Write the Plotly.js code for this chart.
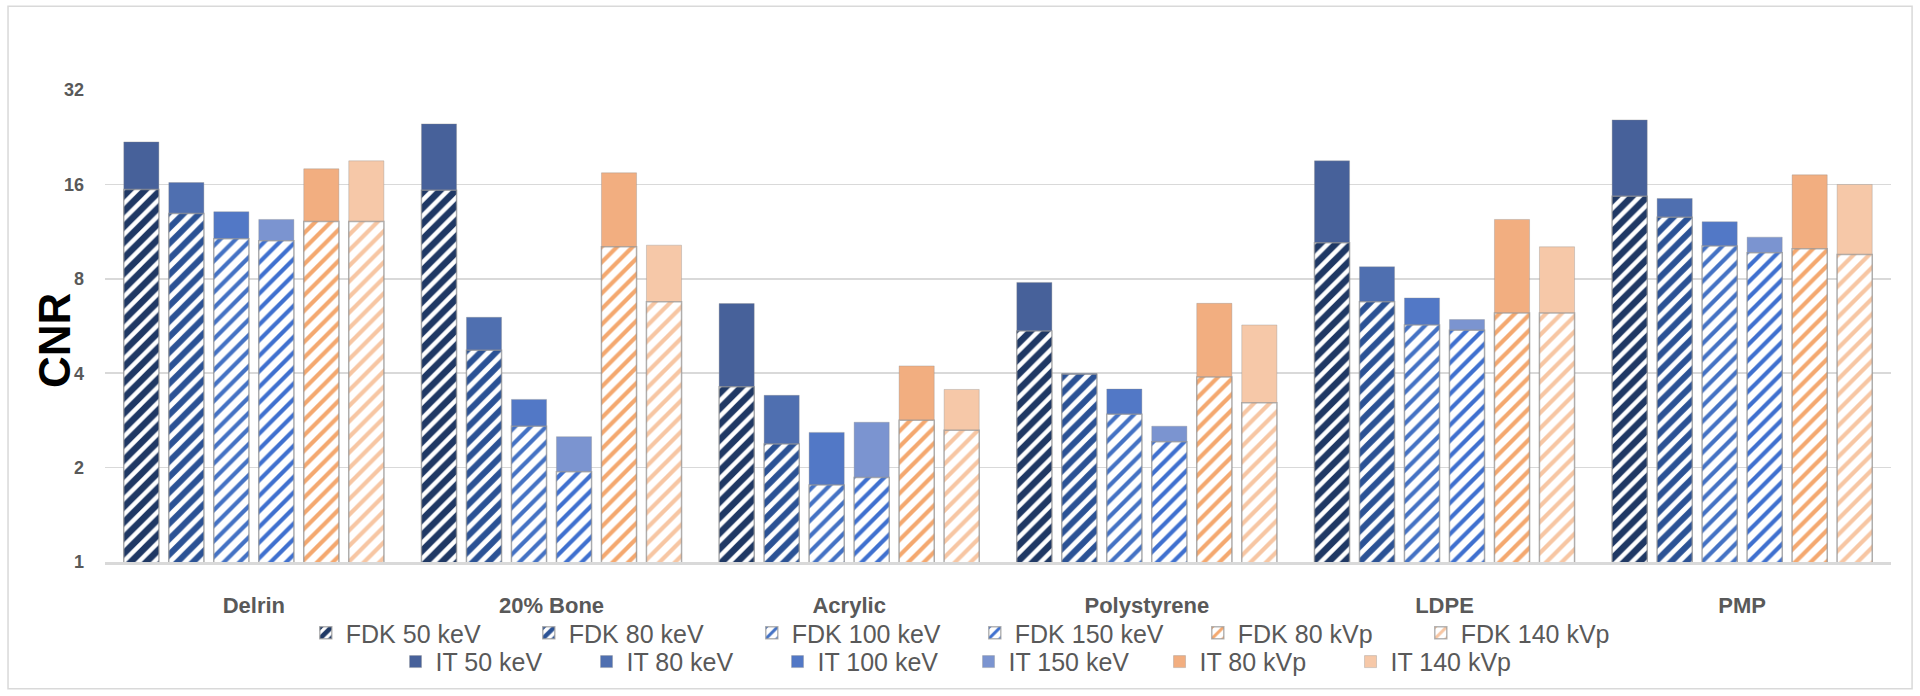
<!DOCTYPE html>
<html>
<head>
<meta charset="utf-8">
<script src="https://cdn.plot.ly/plotly-3.0.1.min.js"></script>
<style>html,body{margin:0;padding:0;background:#fff;}#chart{width:1920px;height:696px;}</style>
</head>
<body>
<div id="chart"></div>
<script>
const categories = ['Delrin', '20% Bone', 'Acrylic', 'Polystyrene', 'LDPE', 'PMP'];

const fdk50     = [15.42, 15.33, 3.62, 5.45, 10.43, 14.67];
const fdk80     = [12.92, 4.73, 2.38, 3.97, 6.76, 12.58];
const fdk100    = [10.73, 2.71, 1.76, 2.96, 5.70, 10.17];
const fdk150    = [10.58, 1.94, 1.86, 2.42, 5.48, 9.69];
const fdk80kvp  = [12.19, 10.12, 2.83, 3.89, 6.22, 9.98];
const fdk140kvp = [12.19, 6.76, 2.63, 3.22, 6.22, 9.57];

const it50      = [21.86, 24.95, 6.67, 7.79, 19.02, 25.69];
const it80      = [16.22, 6.03, 3.40, 3.99, 8.74, 14.43];
const it100     = [13.09, 3.30, 2.59, 3.56, 6.95, 12.16];
const it150     = [12.37, 2.51, 2.79, 2.71, 5.93, 10.86];
const it80kvp   = [17.94, 17.42, 4.22, 6.68, 12.37, 17.16];
const it140kvp  = [19.02, 10.24, 3.55, 5.70, 10.12, 15.99];

const yTickVals = [1, 2, 4, 8, 16, 32];
const yTickText = ['1', '2', '4', '8', '16', '32'];

const fdkNames = ['FDK 50 keV', 'FDK 80 keV', 'FDK 100 keV', 'FDK 150 keV', 'FDK 80 kVp', 'FDK 140 kVp'];
const itNames  = ['IT 50 keV', 'IT 80 keV', 'IT 100 keV', 'IT 150 keV', 'IT 80 kVp', 'IT 140 kVp'];
const fdkData = [fdk50, fdk80, fdk100, fdk150, fdk80kvp, fdk140kvp];
const itData  = [it50, it80, it100, it150, it80kvp, it140kvp];

const fdkColors = ['#1f3864', '#2b5295', '#4472c4', '#3f70cf', '#f4a86f', '#f7c6a3'];
const fdkSolidity = [0.6, 0.55, 0.38, 0.38, 0.38, 0.38];
const itColors  = ['#47619a', '#4f6fb0', '#5278c6', '#7b94d0', '#f2ae80', '#f6c8a8'];

const traces = [];
for (let i = 0; i < 6; i++) {
  traces.push({
    type: 'bar', name: itNames[i], x: categories, y: itData[i],
    offsetgroup: 'g' + i, legend: 'legend2',
    marker: { color: itColors[i], line: { color: 'rgba(140,140,140,0.35)', width: 1 } },
    hoverinfo: 'name+y'
  });
}
for (let i = 0; i < 6; i++) {
  traces.push({
    type: 'bar', name: fdkNames[i], x: categories, y: fdkData[i],
    offsetgroup: 'g' + i, legend: 'legend',
    marker: {
      color: fdkColors[i],
      line: { color: 'rgba(150,150,150,0.7)', width: 1.5 },
      pattern: { shape: '/', fillmode: 'replace', fgcolor: fdkColors[i], bgcolor: '#ffffff', size: 11, solidity: fdkSolidity[i] }
    },
    hoverinfo: 'name+y'
  });
}

const legendFont = { family: 'Liberation Sans Narrow, Arial Narrow, sans-serif', size: 25, color: '#595959' };

const layout = {
  width: 1920, height: 696,
  margin: { l: 105, r: 29, t: 90, b: 133 },
  paper_bgcolor: '#ffffff', plot_bgcolor: '#ffffff',
  barmode: 'group', bargap: 0.093, bargroupgap: 0.22,
  showlegend: true,
  xaxis: {
    type: 'category', showgrid: false, zeroline: false,
    showline: true, linecolor: '#d9d9d9', linewidth: 3,
    ticks: '', ticklabelstandoff: 22,
    tickfont: { family: 'Liberation Sans Narrow, Arial Narrow, sans-serif', size: 22, color: '#595959', weight: 'bold' }
  },
  yaxis: {
    type: 'log', range: [0, Math.log10(32)],
    tickvals: yTickVals, ticktext: yTickText,
    showgrid: true, gridcolor: '#d9d9d9', gridwidth: 1.5,
    zeroline: false, showline: false, ticks: '', ticklabelstandoff: 20,
    tickfont: { family: 'Liberation Sans, Arial, sans-serif', size: 18, color: '#595959', weight: 'bold' }
  },
  legend: {
    orientation: 'h', x: 0.487, xanchor: 'center', y: -0.148, yanchor: 'middle',
    font: legendFont, entrywidth: 178, traceorder: 'normal', itemwidth: 30, bgcolor: 'rgba(0,0,0,0)'
  },
  legend2: {
    orientation: 'h', x: 0.4835, xanchor: 'center', y: -0.209, yanchor: 'middle',
    font: legendFont, entrywidth: 146, traceorder: 'normal', itemwidth: 30, bgcolor: 'rgba(0,0,0,0)'
  },
  annotations: [{
    text: 'CNR', xref: 'paper', yref: 'paper', x: -0.0286, y: 0.47,
    xanchor: 'center', yanchor: 'middle', textangle: -90, showarrow: false,
    font: { family: 'Liberation Sans Narrow, Arial Narrow, sans-serif', size: 44, color: '#000000', weight: 'bold' }
  }],
  shapes: [{
    type: 'rect', xref: 'paper', yref: 'paper',
    x0: -0.0543, x1: 1.0118, y0: -0.2685, y1: 1.1776,
    line: { color: '#d9d9d9', width: 1.5 }, fillcolor: 'rgba(0,0,0,0)', layer: 'below'
  }]
};

Plotly.newPlot('chart', traces, layout, { displayModeBar: false, staticPlot: true });
</script>
</body>
</html>
